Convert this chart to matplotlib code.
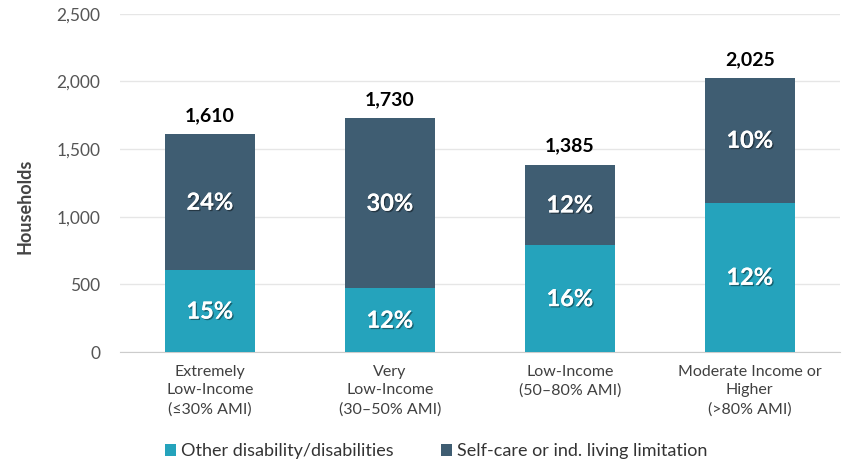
import matplotlib.pyplot as plt
import matplotlib.patheffects as pe
import numpy as np

plt.rcParams['font.family'] = ['Lato', 'DejaVu Sans']

categories = ['Extremely\nLow-Income\n(≤30% AMI)', 'Very\nLow-Income\n(30–50% AMI)',
              'Low-Income\n(50–80% AMI)', 'Moderate Income or\nHigher\n(>80% AMI)']
other_disab = [605, 470, 790, 1105]
totals = [1610, 1730, 1385, 2025]
selfcare = [t - o for t, o in zip(totals, other_disab)]
other_pct = ['15%', '12%', '16%', '12%']
selfcare_pct = ['24%', '30%', '12%', '10%']

c_other = '#25A3BC'
c_self = '#3F5D72'

fig = plt.figure(figsize=(8.44, 4.62), dpi=100)
ax = fig.add_axes([0.142, 0.238, 0.853, 0.732])

x = np.arange(len(categories))
ax.bar(x, other_disab, width=0.5, color=c_other, label='Other disability/disabilities', zorder=3)
ax.bar(x, selfcare, width=0.5, bottom=other_disab, color=c_self,
       label='Self-care or ind. living limitation', zorder=3)

shadow = [pe.withSimplePatchShadow(offset=(1, -1), shadow_rgbFace='black', alpha=0.4), pe.Normal()]
for i in range(len(x)):
    ax.text(x[i], other_disab[i] / 2, other_pct[i], ha='center', va='center',
            color='white', fontsize=17, fontweight='bold', path_effects=shadow, zorder=4)
    ax.text(x[i], other_disab[i] + selfcare[i] / 2, selfcare_pct[i], ha='center', va='center',
            color='white', fontsize=17, fontweight='bold', path_effects=shadow, zorder=4)
    ax.text(x[i], totals[i] + 75, f'{totals[i]:,}', ha='center', va='bottom',
            color='black', fontsize=14, fontweight='bold', zorder=4)

ax.set_ylim(0, 2500)
ax.set_xlim(-0.5, 3.5)
ax.set_yticks(np.arange(0, 2501, 500))
ax.yaxis.set_major_formatter(plt.FuncFormatter(lambda v, p: f'{int(v):,}'))
ax.set_xticks(x)
ax.set_xticklabels(categories, fontsize=11.5, color='#404040', linespacing=1.45)
ax.tick_params(axis='y', labelsize=12.5, labelcolor='#555555', length=0, pad=14)
ax.tick_params(axis='x', length=0, pad=9)
ax.grid(axis='y', color='#e6e6e6', linewidth=1, zorder=0)
for s in ['top', 'right', 'left']:
    ax.spines[s].set_visible(False)
ax.spines['bottom'].set_color('#cccccc')
ax.set_ylabel('Households', fontsize=13, fontweight='bold', color='#444444')
ax.yaxis.set_label_coords(-0.12, 0.43)

ax.legend(loc='lower left', bbox_to_anchor=(0.04, -0.365), ncol=2, frameon=False,
          fontsize=13, handlelength=0.6, handleheight=0.6, handletextpad=0.3,
          columnspacing=2.6, labelcolor='#333333')

plt.savefig('out.png', dpi=100, facecolor='white')
